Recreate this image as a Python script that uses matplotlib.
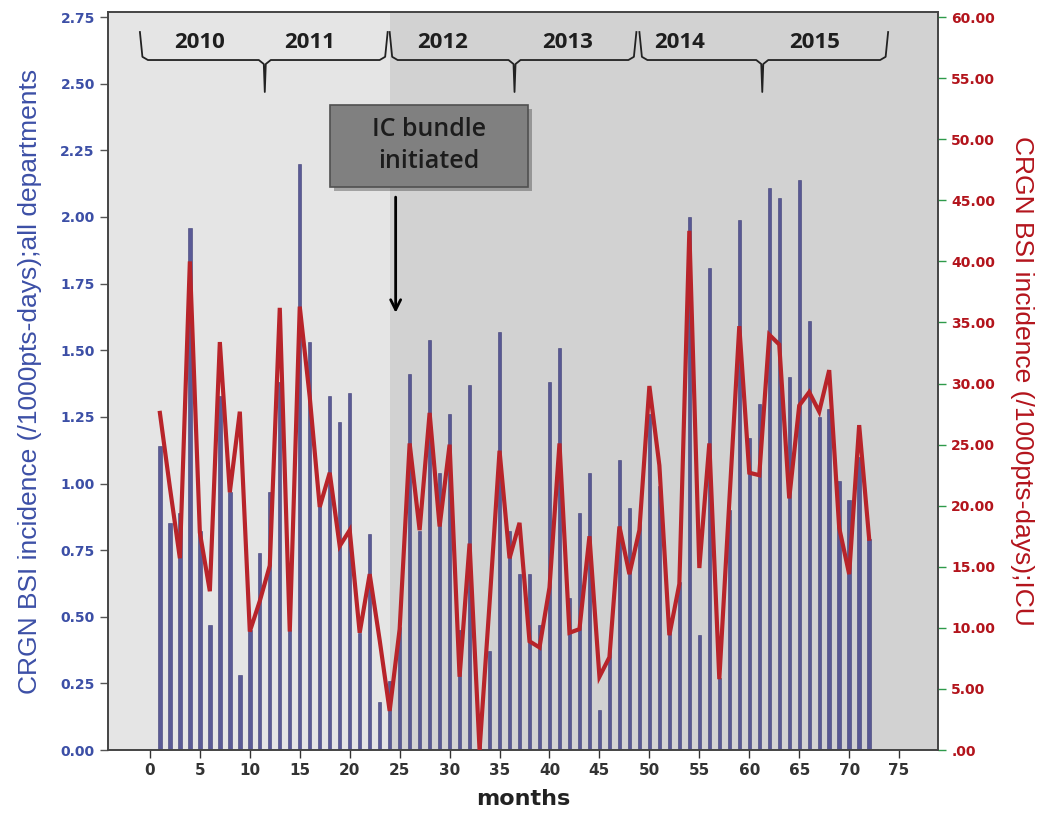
import matplotlib
matplotlib.use("Agg")
import matplotlib.pyplot as plt
from matplotlib.ticker import FuncFormatter, MultipleLocator
import matplotlib.patheffects as pe

# monthly CRGN BSI incidence, all departments (left axis)
months = list(range(1, 73))
all_depts = [
    1.14, 0.85, 0.89, 1.96, 0.82, 0.47, 1.33, 0.97, 0.28, 0.45,
    0.74, 0.97, 1.38, 0.45, 2.20, 1.53, 0.93, 1.33, 1.23, 1.34,
    0.44, 0.81, 0.18, 0.26, 0.46, 1.41, 0.82, 1.54, 1.04, 1.26,
    0.45, 1.37, 0.12, 0.37, 1.57, 0.82, 0.66, 0.66, 0.47, 1.38,
    1.51, 0.57, 0.89, 1.04, 0.15, 0.38, 1.09, 0.91, 0.85, 1.26,
    0.99, 0.44, 0.63, 2.00, 0.43, 1.81, 0.27, 0.90, 1.99, 1.17,
    1.30, 2.11, 2.07, 1.40, 2.14, 1.61, 1.25, 1.28, 1.01, 0.94,
    1.10, 0.79,
]
# monthly CRGN BSI incidence, ICU (right axis)
icu = [
    27.6, 21.5, 15.7, 40.0, 17.8, 13.0, 33.4, 21.1, 27.7, 9.7,
    12.2, 15.1, 36.2, 9.7, 36.3, 28.9, 19.9, 22.7, 16.7, 18.0,
    9.6, 14.4, 9.0, 3.2, 9.9, 25.1, 18.0, 27.6, 18.3, 25.0,
    6.0, 16.9, 0.0, 12.0, 24.5, 15.7, 18.6, 8.9, 8.4, 13.3,
    25.1, 9.6, 9.9, 17.5, 6.0, 7.6, 18.3, 14.4, 18.0, 29.8,
    23.3, 9.4, 13.6, 42.5, 14.9, 25.1, 5.8, 20.3, 34.7, 22.7,
    22.5, 34.0, 33.2, 20.6, 28.2, 29.3, 27.7, 31.1, 18.2, 14.4,
    26.6, 17.3,
]
year_labels = ["2010", "2011", "2012", "2013", "2014", "2015"]
year_pos = [5, 16, 29.3, 41.8, 53, 66.5]
# (start, tip, end) of each two-year brace, in months
braces = [(-1.0, 11.5, 23.8), (24.0, 36.5, 48.7), (49.0, 61.3, 73.9)]

blue_txt = "#3c4fa6"
red_txt = "#b3141c"

fig = plt.figure(figsize=(10.4, 8.19), dpi=100)
ax = fig.add_axes([0.1038, 0.0842, 0.7982, 0.9011])
ax2 = ax.twinx()

ax.set_xlim(-4.2, 78.9)
ytop = 2.769
ax.set_ylim(0, ytop)
ax2.set_ylim(0, ytop * 60 / 2.75)

# shaded periods
ax.axvspan(-4.2, 24.0, color="#e5e5e5", zorder=0, lw=0)
ax.axvspan(24.0, 78.9, color="#d2d2d2", zorder=0, lw=0)

ax.bar(months, all_depts, width=0.34, color="#4b4b8e", edgecolor="#34346e",
       linewidth=0.4, alpha=0.9, zorder=2)
ax2.plot(months, icu, color="#b8242a", lw=3, zorder=3, solid_joinstyle="miter")
ax2.set_zorder(ax.get_zorder() + 1)
ax2.patch.set_visible(False)

# braces and year labels
for x0, xm, x1 in braces:
    ys, yl, yt = 2.694, 2.589, 2.469
    xs = [x0, x0 + 0.25, x0 + 0.8, xm - 0.6, xm - 0.1, xm, xm + 0.1, xm + 0.6,
          x1 - 0.8, x1 - 0.25, x1]
    yy = [ys, yl + 0.012, yl, yl, yl - 0.015, yt, yl - 0.015, yl, yl, yl + 0.012, ys]
    ax.plot(xs, yy, color="#222222", lw=1.3, zorder=4)
for lab, xp in zip(year_labels, year_pos):
    ax.text(xp, 2.653, lab, ha="center", va="center", fontsize=16,
            fontweight="bold", color="#1e1e1e", family="Open Sans", zorder=5)

# IC bundle box
box = plt.Rectangle((18.0, 2.113), 19.8, 0.307, facecolor="#808080",
                    edgecolor="#505050", lw=1.2, zorder=5,
                    path_effects=[pe.SimplePatchShadow(offset=(3, -3), alpha=0.35),
                                  pe.Normal()])
ax.add_patch(box)
ax.text(27.9, 2.268, "IC bundle\ninitiated", ha="center", va="center",
        fontsize=18, color="#1c1c1c", family="Open Sans", fontweight="semibold",
        linespacing=1.35, zorder=6)
ax.annotate("", xy=(24.6, 1.63), xytext=(24.6, 2.085),
            arrowprops=dict(arrowstyle="->", color="black", lw=2,
                            mutation_scale=18), zorder=6)

# axes styling
ax.xaxis.set_major_locator(MultipleLocator(5))
ax.yaxis.set_major_locator(MultipleLocator(0.25))
ax2.yaxis.set_major_locator(MultipleLocator(5))
ax.yaxis.set_major_formatter(FuncFormatter(lambda v, p: f"{v:.2f}"))
ax2.yaxis.set_major_formatter(
    FuncFormatter(lambda v, p: ".00" if abs(v) < 1e-9 else f"{v:.2f}"))

ax.tick_params(axis="x", labelsize=11, colors="#333333", length=6, width=1)
ax.tick_params(axis="y", labelsize=10, labelcolor=blue_txt, color="#555555",
               length=6, width=1)
ax2.tick_params(axis="y", labelsize=10, labelcolor=red_txt, color="#2e9a4a",
                length=6, width=1)
for t in ax.get_yticklabels() + ax2.get_yticklabels() + ax.get_xticklabels():
    t.set_fontweight("bold")

for sp in list(ax.spines.values()) + list(ax2.spines.values()):
    sp.set_color("#444444")
    sp.set_linewidth(1.2)

ax.set_xlabel("months", fontsize=16, fontweight="bold", color="#222222",
              labelpad=8)
ax.set_ylabel("CRGN BSI incidence (/1000pts-days);all departments",
              fontsize=19, color=blue_txt, family="Liberation Sans", labelpad=13)
ax2.set_ylabel("CRGN BSI incidence (/1000pts-days);ICU", fontsize=19,
               color=red_txt, family="Liberation Sans", rotation=270,
               labelpad=28)

plt.savefig("out.png", dpi=100)
